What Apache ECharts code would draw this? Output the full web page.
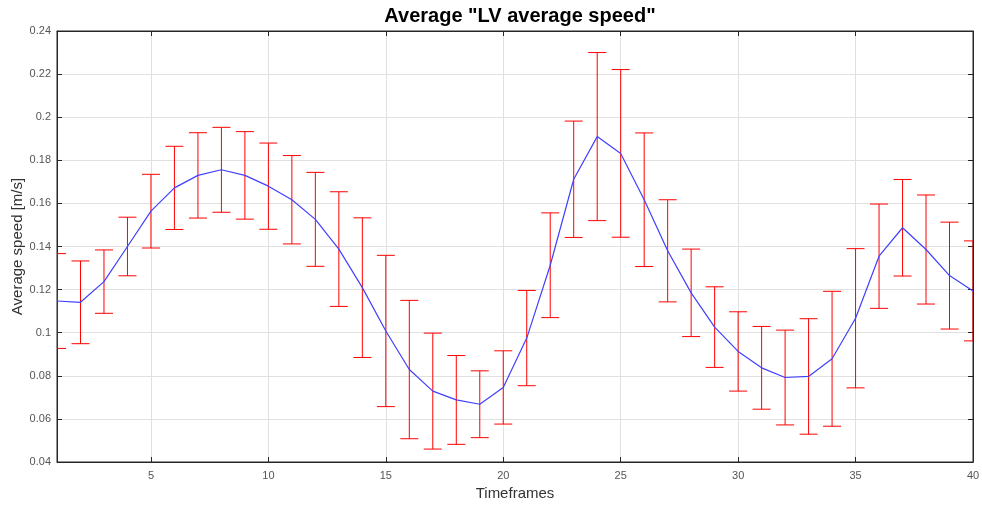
<!DOCTYPE html>
<html>
<head>
<meta charset="utf-8">
<title>Average LV average speed</title>
<script src="https://cdn.jsdelivr.net/npm/echarts@6/dist/echarts.min.js"></script>
<style>
  html, body { margin: 0; padding: 0; background: #fff; }
  #chart { width: 982px; height: 507px; }
</style>
</head>
<body>
<div id="chart"></div>
<script>
// Timeframes 1..40
const timeframes = [
  1, 2, 3, 4, 5, 6, 7, 8, 9, 10,
  11, 12, 13, 14, 15, 16, 17, 18, 19, 20,
  21, 22, 23, 24, 25, 26, 27, 28, 29, 30,
  31, 32, 33, 34, 35, 36, 37, 38, 39, 40
];

// mean speed [m/s]
const meanSpeed = [
  0.1147, 0.1141, 0.1237, 0.1400, 0.1564, 0.1672, 0.1730, 0.1756, 0.1730, 0.1680,
  0.1617, 0.1526, 0.1388, 0.1209, 0.1008, 0.0829, 0.0729, 0.0688, 0.0668, 0.0746,
  0.0975, 0.1313, 0.1712, 0.1910, 0.1832, 0.1617, 0.1380, 0.1185, 0.1026, 0.0913,
  0.0837, 0.0792, 0.0797, 0.0879, 0.1067, 0.1355, 0.1487, 0.1386, 0.1265, 0.1194
];

// half width of error bars
const errSpeed = [
  0.0220, 0.0192, 0.0147, 0.0136, 0.0171, 0.0193, 0.0198, 0.0197, 0.0203, 0.0200,
  0.0205, 0.0218, 0.0266, 0.0324, 0.0351, 0.0321, 0.0269, 0.0206, 0.0155, 0.0170,
  0.0221, 0.0243, 0.0270, 0.0390, 0.0389, 0.0310, 0.0237, 0.0203, 0.0187, 0.0184,
  0.0192, 0.0220, 0.0268, 0.0313, 0.0323, 0.0242, 0.0224, 0.0253, 0.0248, 0.0232
];

const chart = echarts.init(document.getElementById('chart'));

const every5 = (idx) => (idx + 1) % 5 === 0;
const labelColor = '#555';
const axisColor = '#262626';
const gridColor = '#e0e0e0';

const errData = timeframes.map((t, i) => [i, meanSpeed[i] - errSpeed[i], meanSpeed[i] + errSpeed[i]]);

// vertical bar + caps, clipped to the plot box
function renderErrorBar(params, api) {
  const lo = api.coord([api.value(0), api.value(1)]);
  const hi = api.coord([api.value(0), api.value(2)]);
  const cap = 9;
  const style = { stroke: '#ff0000', lineWidth: 1 };
  const cs = params.coordSys;
  return {
    type: 'group',
    clipPath: { type: 'rect', shape: { x: cs.x, y: cs.y, width: cs.width, height: cs.height } },
    children: [
      { type: 'line', shape: { x1: hi[0], y1: hi[1], x2: lo[0], y2: lo[1] }, style: style },
      { type: 'line', shape: { x1: hi[0] - cap, y1: hi[1], x2: hi[0] + cap, y2: hi[1] }, style: style },
      { type: 'line', shape: { x1: lo[0] - cap, y1: lo[1], x2: lo[0] + cap, y2: lo[1] }, style: style }
    ]
  };
}

const option = {
  animation: false,
  backgroundColor: '#fff',
  title: {
    text: 'Average "LV average speed"',
    left: 515,
    textAlign: 'center',
    top: 1,
    textStyle: { fontFamily: 'Liberation Sans', fontSize: 20, fontWeight: 'bold', color: '#000' }
  },
  grid: {
    left: 57, right: 9, top: 31, bottom: 45,
    outerBoundsMode: 'none',
    containLabel: false,
    show: true, borderColor: axisColor, borderWidth: 1, backgroundColor: '#fff'
  },
  xAxis: [{
    type: 'category',
    data: timeframes,
    boundaryGap: false,
    name: 'Timeframes',
    nameLocation: 'middle',
    nameGap: 24,
    nameTextStyle: { fontFamily: 'Liberation Sans', fontSize: 15, color: '#333' },
    axisLine: { show: true, lineStyle: { color: axisColor } },
    axisTick: { inside: true, length: 5, interval: every5, lineStyle: { color: axisColor } },
    axisLabel: { interval: every5, fontFamily: 'Liberation Sans', fontSize: 11, color: labelColor, margin: 8 },
    splitLine: { show: true, interval: every5, lineStyle: { color: gridColor } }
  }, {
    type: 'category',
    data: timeframes,
    boundaryGap: false,
    position: 'top',
    axisLine: { show: true, lineStyle: { color: axisColor } },
    axisTick: { inside: true, length: 5, interval: every5, lineStyle: { color: axisColor } },
    axisLabel: { show: false },
    splitLine: { show: false }
  }],
  yAxis: [{
    type: 'value',
    min: 0.04, max: 0.24, interval: 0.02,
    name: 'Average speed [m/s]',
    nameLocation: 'middle',
    nameGap: 32,
    nameMoveOverlap: false,
    nameTextStyle: { fontFamily: 'Liberation Sans', fontSize: 15, color: '#333' },
    axisLine: { show: true, lineStyle: { color: axisColor } },
    axisTick: { show: true, inside: true, length: 5, lineStyle: { color: axisColor } },
    axisLabel: {
      fontFamily: 'Liberation Sans', fontSize: 11, color: labelColor, margin: 6,
      formatter: (v) => String(parseFloat(v.toFixed(2)))
    },
    splitLine: { show: true, lineStyle: { color: gridColor } }
  }, {
    type: 'value',
    min: 0.04, max: 0.24, interval: 0.02,
    position: 'right',
    axisLine: { show: true, lineStyle: { color: axisColor } },
    axisTick: { show: true, inside: true, length: 5, lineStyle: { color: axisColor } },
    axisLabel: { show: false },
    splitLine: { show: false }
  }],
  series: [{
    name: 'std',
    type: 'custom',
    renderItem: renderErrorBar,
    data: errData,
    encode: { x: 0, y: [1, 2] },
    z: 2
  }, {
    name: 'mean',
    type: 'line',
    data: meanSpeed,
    symbol: 'none',
    lineStyle: { color: '#4040ff', width: 1.2 },
    z: 3
  }]
};

chart.setOption(option);
</script>
</body>
</html>
